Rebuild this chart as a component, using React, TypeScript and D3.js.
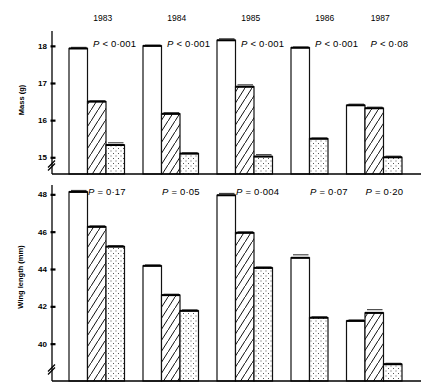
import React, { useEffect, useRef } from 'react';
import * as d3 from 'd3';

const years = ['1983', '1984', '1985', '1986', '1987'];
const seriesKeys = ['white', 'hatched', 'dotted'];

// Mass (g)
const massWhite = [17.93, 18.0, 18.15, 17.95, 16.4];
const massHatched = [16.5, 16.17, 16.9, null, 16.32];
const massDotted = [15.33, 15.1, 15.02, 15.5, 15.0];
const massErrWhite = [0.03, 0.02, 0.04, 0.02, 0.03];
const massErrHatched = [0.02, 0.03, 0.05, 0, 0.03];
const massErrDotted = [0.06, 0.02, 0.05, 0.02, 0.03];
const massPSign = ['<', '<', '<', '<', '<'];
const massPValue = ['0·001', '0·001', '0·001', '0·001', '0·08'];
const massTicks = [15, 16, 17, 18];

// Wing length (mm)
const wingWhite = [48.13, 44.17, 47.95, 44.6, 41.22];
const wingHatched = [46.26, 42.6, 45.94, null, 41.65];
const wingDotted = [45.2, 41.76, 44.06, 41.39, 38.9];
const wingErrWhite = [0.08, 0.05, 0.1, 0.16, 0.05];
const wingErrHatched = [0.05, 0.05, 0.05, 0, 0.17];
const wingErrDotted = [0.05, 0.05, 0.05, 0.05, 0.05];
const wingPValue = ['0·17', '0·05', '0·004', '0·07', '0·20'];
const wingTicks = [40, 42, 44, 46, 48];

const FONT = '"Liberation Sans", Arial, sans-serif';

const App: React.FC = () => {
  const ref = useRef<SVGSVGElement | null>(null);

  useEffect(() => {
    if (!ref.current) return;
    const svg = d3.select(ref.current);
    svg.selectAll('*').remove();

    const defs = svg.append('defs');
    const hatch = defs.append('pattern')
      .attr('id', 'hatch')
      .attr('patternUnits', 'userSpaceOnUse')
      .attr('width', 7)
      .attr('height', 11);
    hatch.append('rect').attr('width', 7).attr('height', 11).attr('fill', '#fff');
    hatch.append('path')
      .attr('d', 'M-1,12.6 L8,-1.6')
      .attr('stroke', '#111')
      .attr('stroke-width', 1);

    const dots = defs.append('pattern')
      .attr('id', 'dots')
      .attr('patternUnits', 'userSpaceOnUse')
      .attr('width', 5)
      .attr('height', 5);
    dots.append('rect').attr('width', 5).attr('height', 5).attr('fill', '#fff');
    dots.append('rect').attr('x', 0.5).attr('y', 0.5).attr('width', 1).attr('height', 1).attr('fill', '#555');
    dots.append('rect').attr('x', 3).attr('y', 3).attr('width', 1).attr('height', 1).attr('fill', '#555');

    // slots: one per bar, one gap after each year group
    const slots: string[] = [];
    const groupStart: string[] = [];
    const massSeries = [massWhite, massHatched, massDotted];
    years.forEach((yr, i) => {
      let first = '';
      seriesKeys.forEach((s, j) => {
        if (massSeries[j][i] != null) {
          const k = `${i}-${s}`;
          if (!first) first = k;
          slots.push(k);
        }
      });
      groupStart.push(first);
      if (i < years.length - 1) slots.push(`${i}-gap`);
    });

    const x = d3.scaleBand<string>().domain(slots).range([69, 402]).padding(0);
    const bw = x.bandwidth();
    const axisX = 52;
    const lineEnd = 421;

    const fills: Record<string, string> = { white: '#fff', hatched: 'url(#hatch)', dotted: 'url(#dots)' };

    const drawPanel = (
      y: d3.ScaleLinear<number, number>,
      series: (number | null)[][],
      errs: number[][],
      ticks: number[],
      label: string,
      labelY: number,
      breakY: number,
    ) => {
      const g = svg.append('g');
      const [y0, y1] = y.range();

      // bars
      years.forEach((yr, i) => {
        seriesKeys.forEach((s, j) => {
          const v = series[j][i];
          if (v == null) return;
          const bx = x(`${i}-${s}`)!;
          const e = errs[j][i];
          if (e > 0) {
            g.append('line')
              .attr('x1', bx + 2).attr('x2', bx + bw - 1)
              .attr('y1', y(v + e)).attr('y2', y(v + e))
              .attr('stroke', '#111').attr('stroke-width', 0.9);
          }
          g.append('rect')
            .attr('x', bx)
            .attr('y', y(v))
            .attr('width', bw)
            .attr('height', y.range()[0] - y(v))
            .attr('fill', fills[s])
            .attr('stroke', '#111')
            .attr('stroke-width', 1.2);
          g.append('line')
            .attr('x1', bx).attr('x2', bx + bw)
            .attr('y1', y(v)).attr('y2', y(v))
            .attr('stroke', '#000').attr('stroke-width', 2);
        });
      });

      // baseline
      g.append('line')
        .attr('x1', axisX).attr('x2', lineEnd)
        .attr('y1', y0).attr('y2', y0)
        .attr('stroke', '#000').attr('stroke-width', 1.6);

      // y axis
      const ax = g.append('g')
        .attr('transform', `translate(${axisX},0)`)
        .call(d3.axisLeft(y).tickValues(ticks).tickSize(-5).tickPadding(5).tickFormat(d3.format('d')));
      ax.select('.domain').remove();
      ax.selectAll('.tick line').attr('stroke', '#000').attr('stroke-width', 2.2).attr('transform', 'translate(-1.5,0)');
      ax.selectAll('.tick text')
        .style('font-family', FONT)
        .style('font-size', '8px')
        .style('font-weight', 'bold')
        .attr('fill', '#000');
      g.append('line')
        .attr('x1', axisX).attr('x2', axisX)
        .attr('y1', y0).attr('y2', y1)
        .attr('stroke', '#000').attr('stroke-width', 1.3);

      // axis break
      [0, 3].forEach(off => {
        g.append('line')
          .attr('x1', axisX - 4).attr('x2', axisX + 3)
          .attr('y1', breakY + off + 3.5).attr('y2', breakY + off - 3.5)
          .attr('stroke', '#000').attr('stroke-width', 1.2);
      });

      g.append('text')
        .attr('transform', `translate(${label === 'Mass (g)' ? 24 : 23},${labelY}) rotate(-90)`)
        .attr('text-anchor', 'middle')
        .style('font-family', FONT)
        .style('font-size', '7.5px')
        .style('font-weight', 'bold')
        .text(label);
      return g;
    };

    const yMass = d3.scaleLinear().domain([14.55, 18.4]).range([174, 31]);
    const yWing = d3.scaleLinear().domain([38, 48.5]).range([381, 185]);

    drawPanel(yMass, [massWhite, massHatched, massDotted], [massErrWhite, massErrHatched, massErrDotted], massTicks, 'Mass (g)', 100, 164);
    drawPanel(yWing, [wingWhite, wingHatched, wingDotted], [wingErrWhite, wingErrHatched, wingErrDotted], wingTicks, 'Wing length (mm)', 277, 368);

    // year labels
    years.forEach((yr, i) => {
      svg.append('text')
        .attr('x', x(groupStart[i])! + 1.5 * bw + 6)
        .attr('y', 21)
        .attr('text-anchor', 'middle')
        .style('font-family', FONT)
        .style('font-size', '8.5px')
        .text(yr);
    });

    // P labels
    const pText = (px: number, py: number, rest: string) => {
      const t = svg.append('text')
        .attr('x', px).attr('y', py)
        .style('font-family', FONT)
        .style('font-size', '9.5px')
        .style('letter-spacing', '0.2px');
      t.append('tspan').style('font-style', 'italic').text('P');
      t.append('tspan').text(rest);
    };
    years.forEach((yr, i) => {
      pText(x(groupStart[i])! + 24, 47, ` ${massPSign[i]} ${massPValue[i]}`);
      pText(x(groupStart[i])! + 19, 195, ` = ${wingPValue[i]}`);
    });
  }, []);

  return (
    <svg
      ref={ref}
      width={442}
      height={392}
      style={{ position: 'absolute', left: 0, top: 0, background: '#fff' }}
    />
  );
};

export default App;
